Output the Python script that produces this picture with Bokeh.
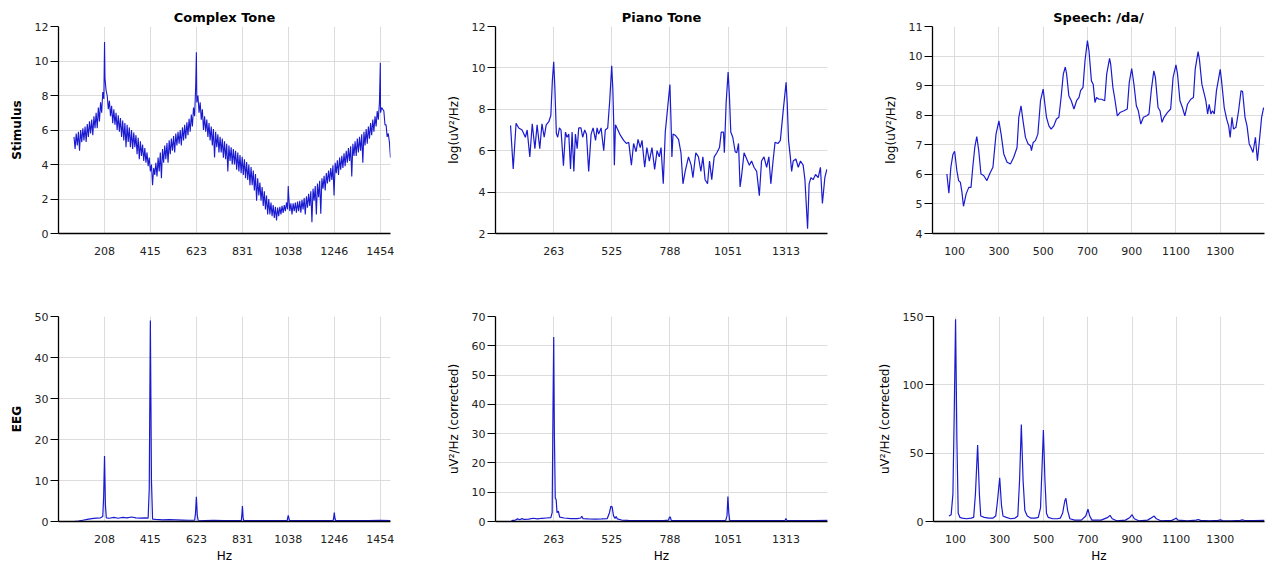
from bokeh.plotting import figure
from bokeh.layouts import column, row
from bokeh.models import FixedTicker, Range1d
from bokeh.embed import file_html
from bokeh.resources import INLINE

# ---------------- data ----------------
# Complex tone stimulus spectrum (F0 ~ 207.7 Hz)
# upper envelope of the comb, read every 10 Hz from 70 to 1500 Hz
ct_hi_hz = list(range(70, 1501, 10))
ct_hi = [5.6, 5.8, 5.9, 6.0, 6.1, 6.2, 6.35, 6.5, 6.6, 6.8,
         7.0, 7.3, 7.6, 8.2, 9.0, 8.0, 7.7, 7.4, 7.2, 7.0,
         6.85, 6.7, 6.55, 6.4, 6.3, 6.15, 6.0, 5.85, 5.7, 5.55,
         5.35, 5.15, 4.95, 4.7, 4.4, 4.0, 3.8, 4.1, 4.4, 4.7,
         4.9, 5.1, 5.25, 5.4, 5.5, 5.65, 5.8, 5.9, 6.0, 6.15,
         6.3, 6.45, 6.65, 6.9, 7.3, 8.6, 8.0, 7.6, 7.2, 6.8,
         6.6, 6.4, 6.2, 6.05, 5.9, 5.75, 5.6, 5.5, 5.35, 5.2,
         5.1, 5.0, 4.9, 4.8, 4.7, 4.55, 4.45, 4.3, 4.15, 4.0,
         3.85, 3.65, 3.45, 3.2, 2.95, 2.7, 2.45, 2.2, 2.0, 1.8,
         1.65, 1.55, 1.5, 1.55, 1.6, 1.65, 1.8, 2.2, 1.75, 1.75,
         1.8, 1.85, 1.9, 1.95, 2.05, 2.15, 2.3, 2.45, 2.6, 2.75,
         2.9, 3.05, 3.2, 3.35, 3.5, 3.65, 3.8, 3.95, 4.1, 4.25,
         4.4, 4.5, 4.65, 4.8, 4.95, 5.05, 5.2, 5.35, 5.5, 5.6,
         5.75, 5.9, 6.05, 6.2, 6.4, 6.6, 6.8, 7.1, 7.6, 7.3,
         7.1, 6.3, 5.8, 4.4]
# dips of the comb, read every 10 Hz from 75 to 1495 Hz
ct_lo_hz = list(range(75, 1500, 10))
ct_lo = [4.9, 5.1, 4.8, 5.3, 5.4, 5.3, 5.6, 5.8, 5.7, 6.1,
         6.1, 6.5, 7.0, 7.8, 8.3, 7.2, 6.8, 6.4, 6.3, 6.0,
         5.9, 5.6, 5.4, 5.0, 5.3, 5.0, 4.9, 5.0, 4.6, 4.3,
         4.5, 4.2, 4.1, 3.9, 3.6, 2.8, 3.4, 3.3, 3.6, 3.2,
         4.1, 4.3, 4.1, 4.6, 4.8, 4.7, 5.1, 5.2, 5.1, 5.4,
         5.5, 5.7, 5.9, 6.2, 6.8, 7.6, 7.0, 6.6, 6.0, 5.9,
         5.6, 5.4, 5.1, 4.4, 5.0, 4.7, 4.7, 4.4, 4.3, 3.6,
         4.2, 4.0, 4.0, 3.7, 3.6, 3.5, 3.4, 3.2, 3.1, 2.8,
         2.8, 2.5, 1.9, 2.2, 1.9, 1.6, 1.4, 1.1, 1.1, 1.0,
         0.9, 0.75, 1.0, 1.1, 1.2, 1.3, 1.4, 1.3, 1.1, 1.3,
         1.2, 1.3, 1.2, 1.4, 1.1, 1.5, 1.6, 0.65, 1.9, 1.1,
         2.1, 1.15, 2.6, 2.5, 2.9, 3.0, 3.1, 2.2, 3.5, 3.4,
         3.7, 3.8, 3.9, 4.1, 4.2, 3.3, 4.5, 4.5, 4.7, 4.8,
         4.1, 5.1, 5.2, 5.5, 5.7, 5.9, 6.2, 6.6, 7.0, 7.2,
         6.3, 5.6, 5.3]
# harmonic peaks
ct_pk_hz = [208, 623, 1038, 1454]
ct_pk = [11.1, 10.5, 2.75, 9.9]

# Piano tone stimulus spectrum (F0 ~ 262.6 Hz)
pt_hz = [68, 80, 93, 105, 120, 135, 143, 155, 166, 178, 188, 200, 210, 220, 229, 241, 250, 257,
         263, 268, 275, 281, 289, 296, 307, 316, 323, 331, 339, 346, 354, 361, 369, 376, 386,
         394, 403, 411, 421, 432, 441, 452, 459, 466, 477, 489, 496, 507, 516, 525, 530, 534,
         537, 542, 553, 564, 579, 591, 602, 614, 624, 635, 644, 654, 662, 674, 684, 695, 707,
         719, 730, 740, 748, 758, 767, 778, 788, 793, 797, 802, 812, 827, 838, 847, 857, 872,
         884, 892, 905, 917, 928, 937, 947, 958, 967, 977, 988, 1000, 1012, 1020, 1030, 1034,
         1042, 1051, 1057, 1063, 1072, 1083, 1090, 1098, 1105, 1112, 1123, 1135, 1147, 1157,
         1168, 1180, 1192, 1202, 1213, 1225, 1235, 1244, 1254, 1263, 1277, 1287, 1300, 1313,
         1318, 1324, 1332, 1338, 1345, 1357, 1368, 1378, 1390, 1398, 1410, 1417, 1425, 1435,
         1446, 1458, 1468, 1477, 1488, 1497]
pt_val = [7.22, 5.12, 7.33, 7.1, 7.0, 6.65, 7.0, 5.7, 7.3, 6.1, 7.25, 6.1, 7.3, 6.65, 7.25, 7.4, 7.7, 9.4,
          10.3, 9.1, 6.83, 6.65, 7.1, 7.0, 5.28, 6.9, 6.65, 6.8, 5.12, 6.9, 5.0, 6.8, 6.1, 7.1, 7.1,
          6.65, 7.0, 6.8, 5.0, 6.8, 7.1, 6.5, 7.1, 6.8, 7.1, 6.0, 7.0, 7.1, 8.4, 10.1, 9.0, 7.4,
          5.3, 7.25, 7.0, 6.75, 6.5, 6.35, 6.4, 5.3, 6.35, 5.95, 6.55, 6.15, 6.5, 5.2, 6.15, 5.5, 6.15,
          5.1, 6.0, 5.7, 6.15, 4.4, 6.9, 8.1, 9.2, 7.45, 5.7, 6.8, 6.75, 6.55, 5.9, 4.4, 5.0, 5.7,
          5.3, 4.7, 5.9, 5.7, 5.0, 5.7, 4.6, 4.4, 5.5, 4.6, 5.7, 5.9, 6.15, 6.9, 6.9, 5.9,
          8.3, 9.8, 8.6, 6.9, 6.65, 5.95, 5.9, 6.35, 4.25, 4.8, 5.9, 5.6, 5.3, 5.5,
          5.2, 5.0, 3.83, 5.5, 5.7, 5.2, 5.7, 4.4, 5.5, 6.4, 6.35, 6.5, 7.95, 9.3,
          8.3, 6.5, 5.7, 5.0, 5.5, 5.6, 5.2, 5.5, 5.3, 4.6, 2.23, 4.4, 4.7, 4.6,
          4.85, 4.7, 5.2, 3.45, 4.7, 5.1]

# Speech /da/ stimulus spectrum (F0 ~ 100 Hz)
sp_hz = [65, 74, 83, 92, 100, 110, 118, 126, 133, 140, 152, 164, 174, 182, 191, 200, 209, 219,
         231, 246, 258, 273, 287, 300, 310, 322, 337, 352, 367, 382, 390, 400, 409, 420, 432,
         443, 447, 455, 465, 476, 488, 500, 506, 515, 526, 536, 548, 560, 571, 581, 591, 600,
         606, 616, 627, 639, 651, 662, 669, 680, 689, 700, 707, 718, 726, 734, 741, 752, 764,
         778, 787, 800, 805, 815, 824, 835, 847, 865, 880, 889, 900, 910, 921, 930, 941, 953,
         968, 978, 989, 1000, 1007, 1019, 1028, 1037, 1046, 1061, 1076, 1087, 1100, 1107, 1118,
         1129, 1140, 1152, 1167, 1179, 1187, 1200, 1206, 1217, 1228, 1235, 1243, 1250, 1258,
         1265, 1273, 1283, 1300, 1306, 1318, 1329, 1338, 1345, 1353, 1360, 1371, 1383, 1394,
         1401, 1412, 1421, 1431, 1439, 1448, 1459, 1468, 1477, 1487, 1496]
sp_val = [6.01, 5.36, 6.24, 6.67, 6.78, 6.13, 5.79, 5.73, 5.4, 4.92, 5.34, 5.56, 5.56, 6.24, 6.91, 7.28, 6.8, 6.01,
          5.96, 5.79, 6.01, 6.24, 7.36, 7.81, 7.36, 6.69, 6.41, 6.35, 6.58, 6.91, 7.93, 8.32, 7.81, 7.25, 7.03,
          6.97, 6.8, 7.08, 7.14, 7.36, 8.49, 8.88, 8.49, 7.93, 7.64, 7.53, 7.64, 7.87, 7.93, 8.6, 9.39, 9.63,
          9.39, 8.66, 8.49, 8.21, 8.49, 8.6, 8.83, 8.94, 9.84, 10.52, 10.18, 9.16, 9.05, 8.43, 8.6, 8.54, 8.54,
          8.49, 9.39, 9.92, 9.73, 8.94, 8.54, 7.98, 8.09, 8.15, 8.21, 9.11, 9.58, 9.05, 8.32, 8.15, 7.7, 7.93,
          7.98, 8.04, 8.88, 9.5, 9.28, 8.26, 8.15, 7.76, 7.93, 8.09, 8.21, 9.28, 9.7, 9.39, 8.49,
          8.26, 7.98, 8.37, 8.54, 8.6, 9.56, 10.15, 9.89, 9.05, 8.71, 8.49, 8.04, 8.37, 8.04,
          8.15, 8.04, 8.83, 9.55, 9.16, 8.26, 7.87, 7.64, 7.25, 7.93, 7.53, 7.59, 8.15, 8.83,
          8.8, 7.93, 7.64, 7.03, 6.91, 6.74, 7.25, 6.46, 7.14, 7.93, 8.26]

# EEG responses
eeg_ct_hz = [70, 90, 110, 130, 150, 170, 190, 200, 204, 208, 212, 216, 230, 250, 270, 290, 310, 330,
             350, 370, 390, 405, 410, 415, 420, 425, 440, 470, 500, 530, 560, 590, 615, 619, 623,
             627, 631, 660, 700, 750, 800, 826, 829, 831, 834, 837, 900, 960, 1033, 1036, 1038,
             1041, 1044, 1100, 1180, 1241, 1244, 1246, 1249, 1252, 1320, 1400, 1450, 1500]
eeg_ct_val = [0.0, 0.1, 0.3, 0.5, 0.7, 0.8, 0.9, 1.2, 6.0, 16.0, 4.0, 0.9, 0.8, 1.0, 0.8, 1.0, 0.9, 1.1,
              0.9, 0.8, 0.9, 0.8, 8.0, 49.0, 10.0, 0.6, 0.5, 0.4, 0.45, 0.4, 0.35, 0.3, 0.3, 2.0, 6.0,
              1.5, 0.3, 0.25, 0.3, 0.25, 0.2, 0.2, 2.0, 3.8, 1.0, 0.2, 0.2, 0.2, 0.2, 1.0, 1.5,
              0.8, 0.2, 0.2, 0.2, 0.2, 1.2, 2.2, 0.8, 0.2, 0.2, 0.2, 0.3, 0.2]

eeg_pt_hz = [72, 90, 100, 110, 120, 130, 150, 170, 190, 210, 230, 250, 256, 260, 263, 266, 270, 274,
             278, 284, 290, 310, 340, 370, 385, 390, 395, 420, 450, 480, 505, 515, 521, 527, 533,
             540, 545, 550, 570, 600, 650, 700, 760, 782, 786, 790, 794, 850, 920, 980, 1040, 1046,
             1050, 1054, 1058, 1120, 1200, 1280, 1308, 1312, 1316, 1380, 1440, 1500]
eeg_pt_val = [0.3, 0.5, 0.9, 0.6, 1.0, 0.7, 0.8, 1.1, 0.9, 1.1, 1.2, 1.3, 3.0, 40.0, 63.0, 30.0, 8.0, 7.5,
              3.0, 3.5, 1.5, 1.2, 1.0, 1.0, 1.2, 1.8, 1.0, 0.9, 0.8, 0.9, 1.0, 3.0, 5.2, 5.0, 2.0,
              1.0, 1.7, 0.9, 0.5, 0.4, 0.3, 0.3, 0.3, 0.5, 1.5, 1.5, 0.4, 0.3, 0.3, 0.3, 0.4, 2.0,
              8.5, 3.0, 0.4, 0.3, 0.3, 0.3, 0.3, 1.0, 0.4, 0.3, 0.3, 0.4]

eeg_sp_hz = [70, 80, 88, 94, 100, 106, 112, 120, 130, 150, 170, 182, 190, 200, 208, 214, 230, 250, 270,
             282, 290, 300, 308, 315, 330, 350, 370, 382, 390, 398, 406, 414, 425, 440, 460, 475, 485,
             492, 498, 505, 512, 520, 540, 560, 575, 585, 595, 600, 608, 618, 640, 670, 690, 700, 708,
             718, 760, 790, 800, 810, 830, 870, 890, 900, 910, 930, 970, 990, 1000, 1010, 1030, 1080,
             1095, 1100, 1108, 1150, 1190, 1200, 1210, 1250, 1290, 1300, 1310, 1350, 1390, 1400, 1410,
             1450, 1500]
eeg_sp_val = [4.0, 5.0, 20.0, 80.0, 148.0, 60.0, 6.0, 3.0, 2.5, 2.0, 2.5, 3.0, 20.0, 56.0, 20.0, 4.0, 3.0, 2.5, 2.5,
              4.0, 15.0, 32.0, 12.0, 4.0, 3.0, 2.0, 2.5, 4.0, 30.0, 71.0, 30.0, 8.0, 4.0, 2.5, 2.5, 3.0, 10.0,
              40.0, 67.0, 30.0, 6.0, 3.0, 2.0, 2.0, 2.5, 6.0, 15.0, 17.0, 8.0, 2.0, 1.0, 1.0, 4.0, 9.0, 4.0,
              1.0, 1.0, 3.0, 4.5, 2.0, 0.5, 1.0, 3.0, 5.0, 2.0, 0.5, 1.0, 3.0, 4.0, 2.0, 0.5, 0.8,
              2.0, 2.5, 1.0, 0.5, 1.0, 1.5, 0.8, 0.5, 0.8, 1.2, 0.6, 0.5, 0.8, 1.2, 0.7,
              0.6, 0.8]

# tick positions
ct_ticks = [208, 415, 623, 831, 1038, 1246, 1454]
pt_ticks = [263, 525, 788, 1051, 1313]
sp_ticks = [100, 300, 500, 700, 900, 1100, 1300]

titles = ["Complex Tone", "Piano Tone", "Speech: /da/"]

# assemble the complex-tone trace (envelope, dips and peaks, ordered by frequency)
_ct = sorted(list(zip(ct_hi_hz, ct_hi)) + list(zip(ct_lo_hz, ct_lo)) + list(zip(ct_pk_hz, ct_pk)))
ct_hz = [a for a, b in _ct]
ct_val = [b for a, b in _ct]

FONT = "DejaVu Sans"
LINE = "#1a1ad0"


def make_fig(x, y, xticks, yrange, yticks, ylabel, ylabel_bold, title, xlabel,
             width, height, bl, br, bt, bb, lw=1.2):
    p = figure(width=width, height=height, output_backend="svg", toolbar_location=None,
               x_range=Range1d(0, 1500), y_range=Range1d(*yrange),
               min_border_left=bl, min_border_right=br, min_border_top=bt, min_border_bottom=bb)
    p.outline_line_color = None
    p.background_fill_color = "white"
    p.border_fill_color = "white"
    p.line(x, y, line_color=LINE, line_width=lw)

    p.xaxis.ticker = FixedTicker(ticks=xticks)
    p.yaxis.ticker = FixedTicker(ticks=yticks)
    for ax in (p.xaxis[0], p.yaxis[0]):
        ax.axis_line_color = "black"
        ax.axis_line_width = 1.3
        ax.minor_tick_line_color = None
        ax.major_label_text_font = FONT
        ax.major_label_text_font_size = "11px"
        ax.major_label_text_color = "#222222"
        ax.axis_label_text_font = FONT
        ax.axis_label_text_color = "black"
    p.xaxis.major_tick_out = 0
    p.xaxis.major_tick_in = 0
    p.xaxis.major_label_standoff = 13
    p.yaxis.major_tick_out = 8
    p.yaxis.major_tick_in = 0
    p.yaxis.major_tick_line_color = "black"
    p.yaxis.major_tick_line_width = 1.2
    p.yaxis.major_label_standoff = 2

    p.yaxis.axis_label = ylabel
    p.yaxis.axis_label_text_font_size = "12px"
    p.yaxis.axis_label_text_font_style = "bold" if ylabel_bold else "normal"
    p.yaxis.axis_label_standoff = 8
    if xlabel:
        p.xaxis.axis_label = xlabel
        p.xaxis.axis_label_text_font_size = "12px"
        p.xaxis.axis_label_text_font_style = "normal"
        p.xaxis.axis_label_standoff = 3

    p.xgrid.grid_line_color = "#dcdcdc"
    p.ygrid.grid_line_color = "#dcdcdc"
    p.xgrid.grid_line_width = 1
    p.ygrid.grid_line_width = 1

    if title:
        p.title.text = title
        p.title.align = "center"
        p.title.text_font = FONT
        p.title.text_font_size = "13px"
        p.title.text_font_style = "bold"
        p.title.text_color = "black"
        p.title.standoff = 3
    return p


ylab_top = "log(uV\u00b2/Hz)"
ylab_bot = "uV\u00b2/Hz (corrected)"

widths = [437, 437, 400]
brs = [47, 47, 10]

p1 = make_fig(ct_hz, ct_val, ct_ticks, (0, 12), [0, 2, 4, 6, 8, 10, 12], "Stimulus", True,
              titles[0], None, widths[0], 290, 58, brs[0], 26, 57, lw=1.1)
p2 = make_fig(pt_hz, pt_val, pt_ticks, (2, 12), [2, 4, 6, 8, 10, 12], ylab_top, False,
              titles[1], None, widths[1], 290, 58, brs[1], 26, 57)
p3 = make_fig(sp_hz, sp_val, sp_ticks, (4, 11), [4, 5, 6, 7, 8, 9, 10, 11], ylab_top, False,
              titles[2], None, widths[2], 290, 58, brs[2], 26, 57)
p4 = make_fig(eeg_ct_hz, eeg_ct_val, ct_ticks, (0, 50), [0, 10, 20, 30, 40, 50], "EEG", True,
              None, "Hz", widths[0], 276, 58, brs[0], 26, 45)
p5 = make_fig(eeg_pt_hz, eeg_pt_val, pt_ticks, (0, 70), [0, 10, 20, 30, 40, 50, 60, 70], ylab_bot, False,
              None, "Hz", widths[1], 276, 58, brs[1], 26, 45)
p6 = make_fig(eeg_sp_hz, eeg_sp_val, sp_ticks, (0, 150), [0, 50, 100, 150], ylab_bot, False,
              None, "Hz", widths[2], 276, 58, brs[2], 26, 45)

layout = column(row(p1, p2, p3), row(p4, p5, p6))

open("out.html", "w").write(file_html(layout, INLINE))
